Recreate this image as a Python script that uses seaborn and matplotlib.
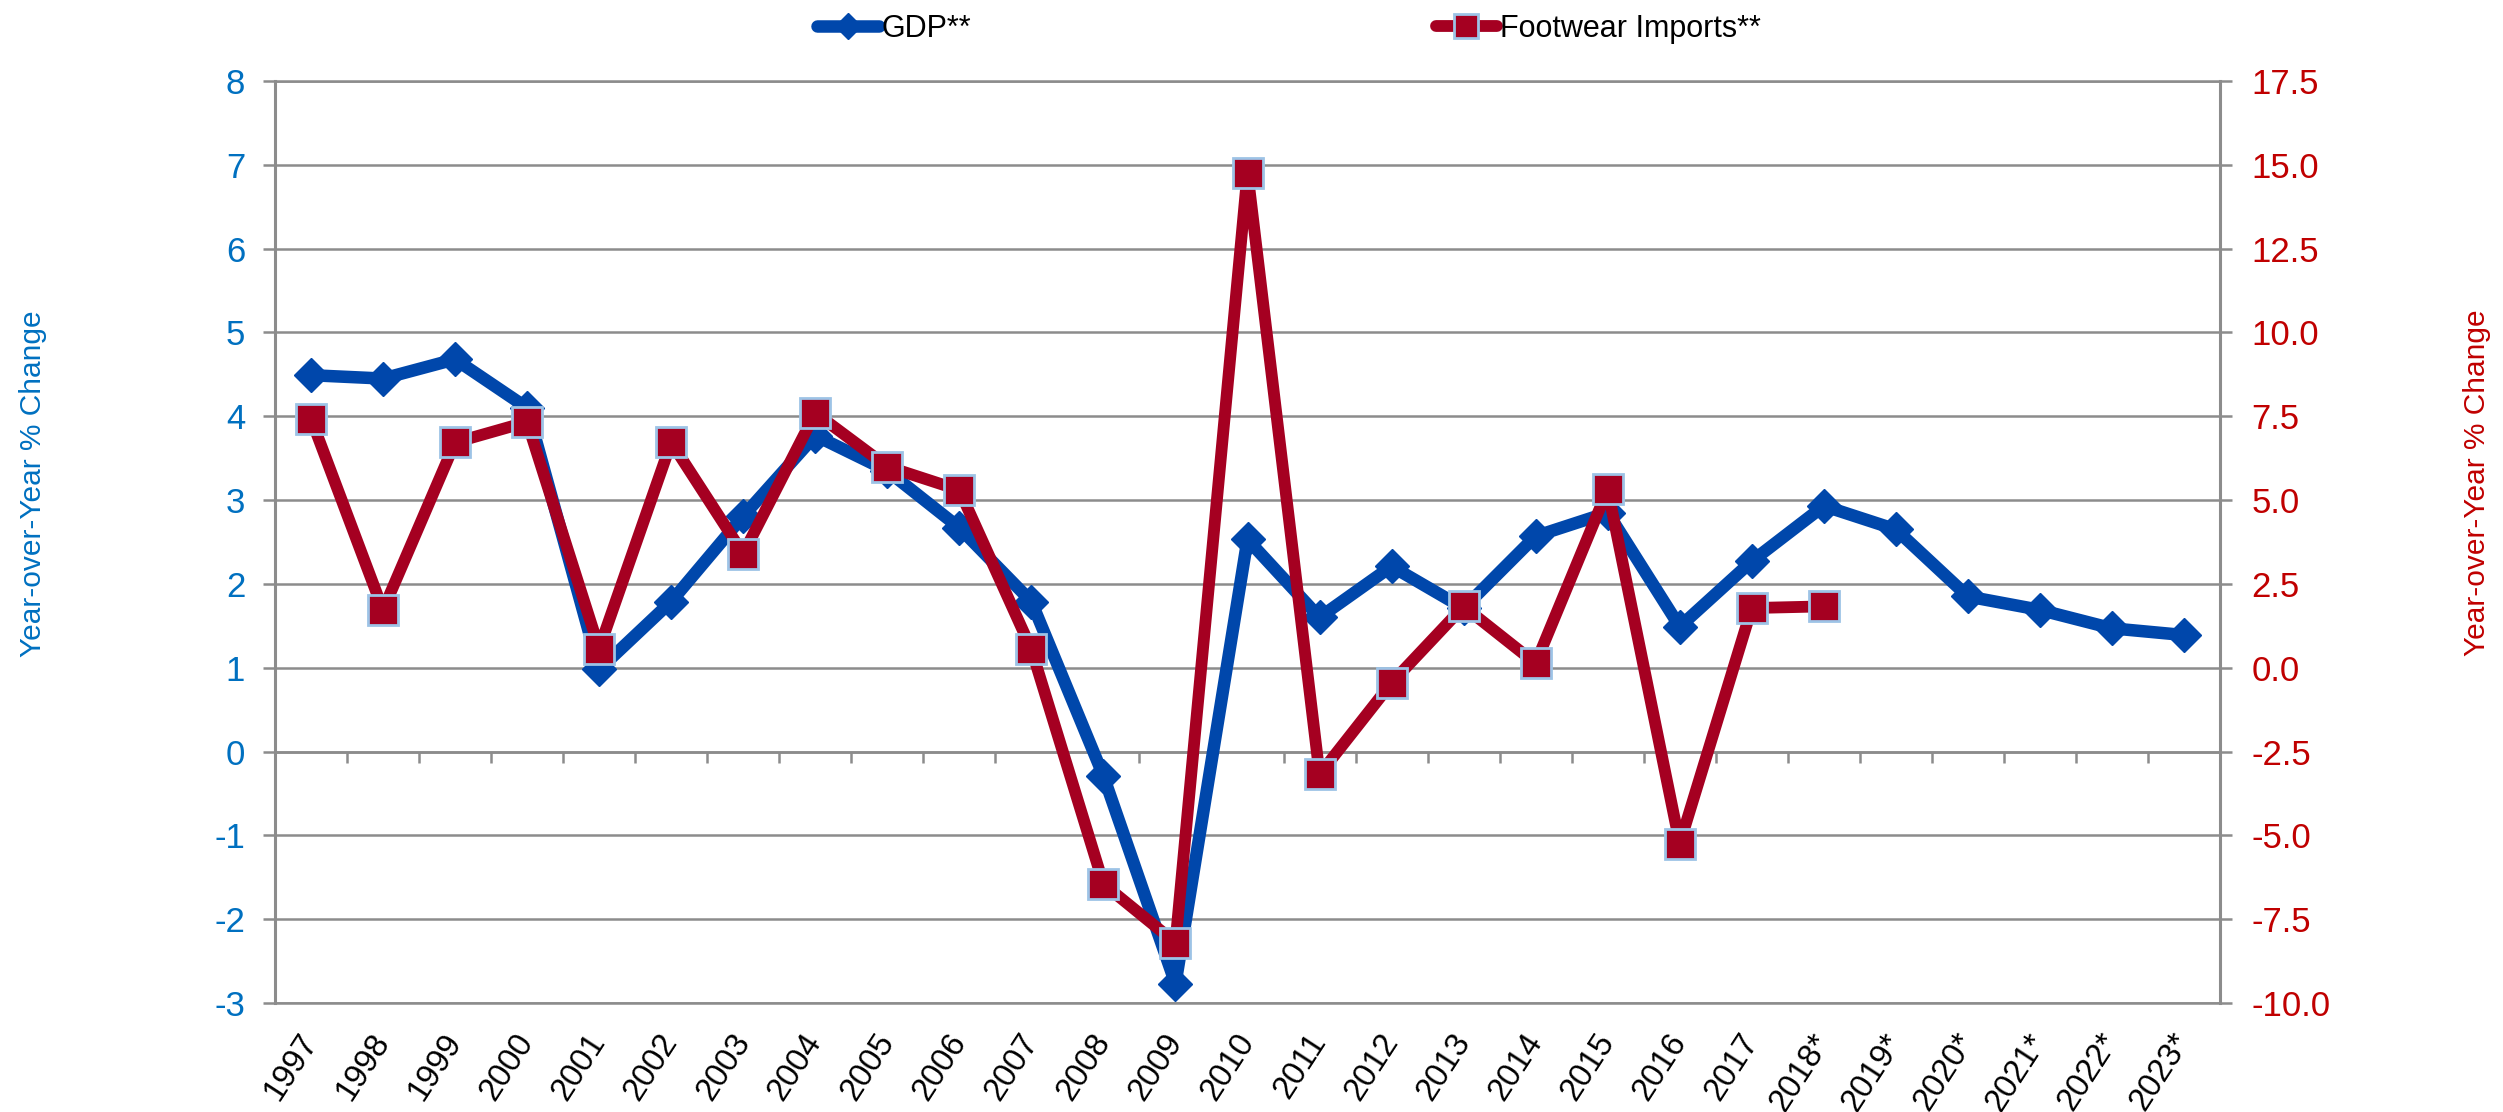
import numpy as np
import matplotlib.pyplot as plt
import seaborn as sns

years = ['1997', '1998', '1999', '2000', '2001', '2002', '2003', '2004', '2005',
         '2006', '2007', '2008', '2009', '2010', '2011', '2012', '2013', '2014',
         '2015', '2016', '2017', '2018*', '2019*', '2020*', '2021*', '2022*', '2023*']
gdp = [4.49, 4.45, 4.68, 4.10, 0.98, 1.79, 2.81, 3.77, 3.35, 2.67, 1.79, -0.29, -2.77,
       2.53, 1.60, 2.21, 1.71, 2.57, 2.85, 1.49, 2.27, 2.93, 2.65, 1.85, 1.69, 1.47, 1.39]
footwear = [7.43, 1.72, 6.72, 7.33, 0.57, 6.72, 3.40, 7.60, 6.00, 5.30, 0.55, -6.45, -8.20,
            14.76, -3.18, -0.45, 1.83, 0.13, 5.32, -5.25, 1.78, 1.83,
            np.nan, np.nan, np.nan, np.nan, np.nan]

left_ticks = np.arange(-3, 9, 1)
right_ticks = np.arange(-10, 17.6, 2.5)

sns.set_theme(style='white')
plt.rcParams['font.family'] = ['Liberation Sans', 'DejaVu Sans']
plt.rcParams['axes.unicode_minus'] = False
plt.rcParams['text.color'] = 'black'
plt.rcParams['xtick.color'] = 'black'

grey = '#8c8c8c'
blue = '#0047ab'
red = '#a50021'

fig = plt.figure(figsize=(25.03, 11.12), dpi=100)
ax = fig.add_axes([0.10987, 0.09802, 0.77707, 0.82914])

sns.lineplot(x=years, y=gdp, ax=ax, sort=False, color=blue, linewidth=9,
             marker='D', markersize=17, markeredgecolor=blue, markeredgewidth=1,
             label='GDP**', zorder=3)
ax.set_ylim(-3, 8)
ax.set_xlim(-0.5, len(years) - 0.5)
ax.set_yticks(left_ticks)
ax.set_yticklabels([str(v) for v in left_ticks])
ax.grid(axis='y', color=grey, linewidth=1.8)
ax.grid(axis='x', visible=False)
ax.set_axisbelow(True)
ax.tick_params(axis='y', colors=grey, labelcolor='#0070c0', labelsize=25,
               length=8.5, width=1.8, direction='out', pad=13, left=True)
ax.tick_params(axis='x', length=0, labelsize=23.5, pad=24, labelrotation=57,
               labelcolor='black')
for lab in ax.get_xticklabels():
    lab.set_ha('right')
    lab.set_va('center')
    lab.set_rotation_mode('anchor')
for s in ['left', 'top', 'bottom']:
    ax.spines[s].set_color(grey)
ax.spines['left'].set_linewidth(2.2)
ax.spines['top'].set_linewidth(1.8)
ax.spines['bottom'].set_linewidth(1.8)
ax.spines['right'].set_visible(False)
ax.set_xlabel('')
ax.set_ylabel('')

# category axis crossing at zero, tick marks between categories
sec = ax.secondary_xaxis((0 - (-3)) / (8 - (-3)))
sec.set_xticks(np.arange(len(years) - 1) + 0.5)
sec.tick_params(axis='x', length=8, width=1.8, color=grey, labelbottom=False,
                labeltop=False, direction='out')
sec.spines['bottom'].set_color(grey)
sec.spines['bottom'].set_linewidth(1.8)

ax2 = ax.twinx()
sns.lineplot(x=years, y=footwear, ax=ax2, sort=False, color=red, linewidth=8.5,
             marker='s', markersize=22, markerfacecolor=red,
             markeredgecolor='#9dc3e6', markeredgewidth=2,
             label='Footwear Imports**', zorder=4)
ax2.set_ylim(-10, 17.5)
ax2.set_yticks(right_ticks)
ax2.set_yticklabels([f'{v:.1f}' for v in right_ticks])
ax2.grid(False)
ax2.tick_params(axis='y', colors=grey, labelcolor='#c00000', labelsize=25,
                length=8.5, width=1.8, direction='out', pad=14, right=True)
for s in ['left', 'top', 'bottom']:
    ax2.spines[s].set_visible(False)
ax2.spines['right'].set_color(grey)
ax2.spines['right'].set_linewidth(2.2)
ax2.set_ylabel('')
ax2.set_xlabel('')

handles = [ax.get_lines()[0], ax2.get_lines()[0]]
for a in (ax, ax2):
    if a.get_legend() is not None:
        a.get_legend().remove()
fig.legend(handles, ['GDP**', 'Footwear Imports**'], loc='center',
           bbox_to_anchor=(0.515, 0.974), ncol=2, frameon=False, fontsize=22,
           handlelength=2.0, handletextpad=0.1, columnspacing=15.2,
           markerscale=0.8, borderpad=0, labelcolor='black')

fig.text(0.0132, 0.5647, 'Year-over-Year % Change', rotation=90, color='#0070c0',
         fontsize=21.5, ha='center', va='center')
fig.text(0.9896, 0.5656, 'Year-over-Year % Change', rotation=90, color='#c00000',
         fontsize=21.5, ha='center', va='center')

fig.savefig('out.png', dpi=100)
